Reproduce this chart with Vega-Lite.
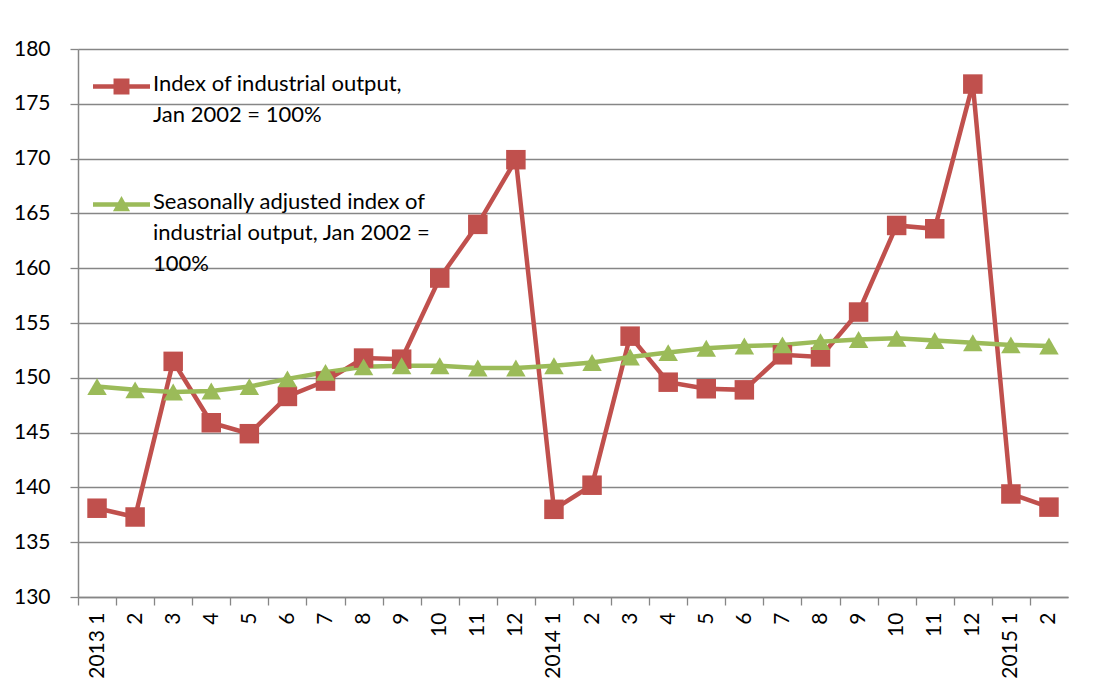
{
  "$schema": "https://vega.github.io/schema/vega-lite/v6.json",
  "width": 990,
  "height": 548,
  "autosize": {"type": "none"},
  "padding": {"left": 78, "top": 49, "right": 25, "bottom": 101},
  "background": "white",
  "config": {"view": {"stroke": null}, "font": "Lato"},
  "data": {"values": [
      {"m": "2013-01", "s": "A", "v": 138.1},
      {"m": "2013-02", "s": "A", "v": 137.3},
      {"m": "2013-03", "s": "A", "v": 151.5},
      {"m": "2013-04", "s": "A", "v": 145.9},
      {"m": "2013-05", "s": "A", "v": 144.9},
      {"m": "2013-06", "s": "A", "v": 148.3},
      {"m": "2013-07", "s": "A", "v": 149.7},
      {"m": "2013-08", "s": "A", "v": 151.8},
      {"m": "2013-09", "s": "A", "v": 151.7},
      {"m": "2013-10", "s": "A", "v": 159.1},
      {"m": "2013-11", "s": "A", "v": 164.0},
      {"m": "2013-12", "s": "A", "v": 169.9},
      {"m": "2014-01", "s": "A", "v": 138.0},
      {"m": "2014-02", "s": "A", "v": 140.2},
      {"m": "2014-03", "s": "A", "v": 153.8},
      {"m": "2014-04", "s": "A", "v": 149.6},
      {"m": "2014-05", "s": "A", "v": 149.0},
      {"m": "2014-06", "s": "A", "v": 148.9},
      {"m": "2014-07", "s": "A", "v": 152.1},
      {"m": "2014-08", "s": "A", "v": 151.9},
      {"m": "2014-09", "s": "A", "v": 156.0},
      {"m": "2014-10", "s": "A", "v": 163.9},
      {"m": "2014-11", "s": "A", "v": 163.6},
      {"m": "2014-12", "s": "A", "v": 176.8},
      {"m": "2015-01", "s": "A", "v": 139.4},
      {"m": "2015-02", "s": "A", "v": 138.2},
      {"m": "2013-01", "s": "B", "v": 149.2},
      {"m": "2013-02", "s": "B", "v": 148.9},
      {"m": "2013-03", "s": "B", "v": 148.7},
      {"m": "2013-04", "s": "B", "v": 148.8},
      {"m": "2013-05", "s": "B", "v": 149.2},
      {"m": "2013-06", "s": "B", "v": 149.9},
      {"m": "2013-07", "s": "B", "v": 150.5},
      {"m": "2013-08", "s": "B", "v": 151.0},
      {"m": "2013-09", "s": "B", "v": 151.1},
      {"m": "2013-10", "s": "B", "v": 151.1},
      {"m": "2013-11", "s": "B", "v": 150.9},
      {"m": "2013-12", "s": "B", "v": 150.9},
      {"m": "2014-01", "s": "B", "v": 151.1},
      {"m": "2014-02", "s": "B", "v": 151.4},
      {"m": "2014-03", "s": "B", "v": 151.9},
      {"m": "2014-04", "s": "B", "v": 152.3},
      {"m": "2014-05", "s": "B", "v": 152.7},
      {"m": "2014-06", "s": "B", "v": 152.9},
      {"m": "2014-07", "s": "B", "v": 153.0},
      {"m": "2014-08", "s": "B", "v": 153.3},
      {"m": "2014-09", "s": "B", "v": 153.5},
      {"m": "2014-10", "s": "B", "v": 153.6},
      {"m": "2014-11", "s": "B", "v": 153.4},
      {"m": "2014-12", "s": "B", "v": 153.2},
      {"m": "2015-01", "s": "B", "v": 153.0},
      {"m": "2015-02", "s": "B", "v": 152.9}
  ]},
  "encoding": {
    "x": {
      "field": "m",
      "type": "ordinal",
      "scale": {"type": "point", "padding": 0.5},
      "axis": {
        "title": null,
        "labelAngle": -90,
        "labelFontSize": 21,
        "labelFont": "Lato",
        "labelColor": "black",
        "labelPadding": 7,
        "labelOverlap": false,
        "tickSize": 8,
        "tickOffset": -19.04,
        "labelOffset": 19.04,
        "tickColor": "#868686",
        "tickWidth": 1.3,
        "domainColor": "#868686",
        "domainWidth": 1.5,
        "labelExpr": "slice(datum.value,5)=='01' ? slice(datum.value,0,4)+' 1' : ''+toNumber(slice(datum.value,5))"
      }
    },
    "y": {
      "field": "v",
      "type": "quantitative",
      "scale": {"domain": [130, 180], "nice": false, "zero": false},
      "axis": {
        "title": null,
        "values": [130, 135, 140, 145, 150, 155, 160, 165, 170, 175, 180],
        "labelFontSize": 21,
        "labelFont": "Lato",
        "labelColor": "black",
        "labelPadding": 20,
        "tickSize": 8,
        "tickColor": "#868686",
        "tickWidth": 1.3,
        "domainColor": "#868686",
        "domainWidth": 1.5,
        "gridColor": "#868686",
        "gridWidth": 1.4
      }
    },
    "color": {
      "field": "s",
      "type": "nominal",
      "scale": {"domain": ["A", "B"], "range": ["#C0504D", "#9BBB59"]},
      "legend": {
        "orient": "none",
        "legendX": 15,
        "legendY": 9,
        "title": null,
        "labelFont": "Lato",
        "labelFontSize": 22,
        "labelColor": "black",
        "labelLimit": 500,
        "labelOffset": 3,
        "labelBaseline": "top",
        "rowPadding": 50,
        "labelExpr": "datum.value == 'B' ? ['Seasonally adjusted index of', 'industrial output, Jan 2002 =', '100%'] : ['Index of industrial output,', 'Jan 2002 = 100%']",
        "encode": {
          "symbols": {
            "update": {
              "size": {"value": 3249},
              "strokeWidth": {"value": 0},
              "fill": {"scale": "color", "field": "value"},
              "opacity": {"value": 1}
            }
          },
          "labels": {
            "update": {
              "lineHeight": {"value": 31},
              "dy": {"value": -13}
            }
          }
        }
      }
    }
  },
  "layer": [
    {"mark": {"type": "line", "strokeWidth": 4.5}},
    {
      "transform": [{"filter": "datum.v < 0"}],
      "mark": {"type": "point", "filled": true, "opacity": 1, "size": 380},
      "encoding": {
        "shape": {
          "field": "s",
          "type": "nominal",
          "scale": {"domain": ["A", "B"], "range": ["M-1,-0.075H1V0.075H-1Z M-0.28,-0.28H0.28V0.28H-0.28Z", "M-1,-0.075H1V0.075H-1Z M0,-0.3L0.3,0.24H-0.3Z"]}
        }
      }
    },
    {
      "transform": [{"filter": "datum.s == 'A'"}],
      "mark": {"type": "point", "shape": "square", "filled": true, "opacity": 1, "size": 380}
    },
    {
      "transform": [{"filter": "datum.s == 'B'"}],
      "mark": {"type": "point", "shape": "triangle-up", "filled": true, "opacity": 1, "size": 380}
    }
  ]
}
